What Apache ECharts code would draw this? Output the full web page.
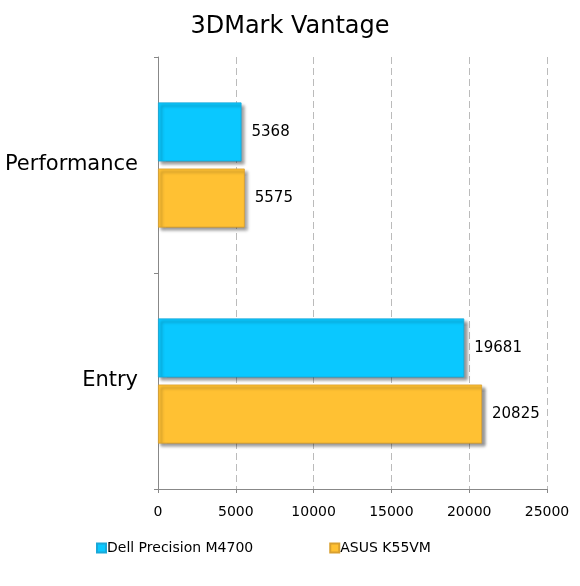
<!DOCTYPE html>
<html>
<head>
<meta charset="utf-8">
<script src="https://cdn.jsdelivr.net/npm/echarts@6/dist/echarts.min.js"></script>
<style>
  html, body { margin: 0; padding: 0; background: #fff; }
  #chart { width: 580px; height: 586px; }
</style>
</head>
<body>
<div id="chart"></div>
<script>
// chart data
const categories = ['Performance', 'Entry']
const dellScores = [5368, 19681]
const asusScores = [5575, 20825]
const seriesNames = ['Dell Precision M4700', 'ASUS K55VM']
const xTicks = [0, 5000, 10000, 15000, 20000, 25000]

const font = 'Verdana, "DejaVu Sans", sans-serif'

function barSeries(name, data, color, edge) {
  return {
    name,
    type: 'bar',
    data,
    barWidth: 59,
    barGap: '12%',
    itemStyle: {
      color,
      borderColor: edge,
      borderWidth: 0.8,
      shadowColor: 'rgba(0,0,0,0.45)',
      shadowBlur: 3,
      shadowOffsetX: 3,
      shadowOffsetY: 3
    },
    label: {
      show: true,
      position: 'right',
      distance: 10,
      color: '#000',
      fontFamily: font,
      fontSize: 15,
      padding: [3, 0, 0, 0]
    }
  }
}

const chart = echarts.init(document.getElementById('chart'), null, { renderer: 'canvas' })

chart.setOption({
  animation: false,
  backgroundColor: '#fff',
  title: {
    text: '3DMark Vantage',
    left: 'center',
    top: 10,
    textStyle: { fontFamily: font, fontSize: 24, fontWeight: 'normal', color: '#000' }
  },
  legend: {
    bottom: 26,
    left: 91,
    itemGap: 76,
    itemWidth: 9,
    itemHeight: 9,
    icon: 'rect',
    textStyle: { fontFamily: font, fontSize: 14, color: '#000', padding: [0, 0, 0, -4] },
    data: seriesNames
  },
  grid: { left: 158, right: 33, top: 57, bottom: 97 },
  xAxis: {
    type: 'value',
    min: xTicks[0],
    max: xTicks[xTicks.length - 1],
    interval: 5000,
    axisLine: { show: true, lineStyle: { color: '#888' } },
    axisTick: { show: true, length: 4, lineStyle: { color: '#888' } },
    axisLabel: {
      fontFamily: font, fontSize: 14, color: '#000', margin: 16,
      formatter: v => String(v)
    },
    splitLine: { show: true, lineStyle: { color: '#bbb', type: [7, 4] } }
  },
  yAxis: {
    type: 'category',
    inverse: true,
    data: categories,
    axisLine: { show: true, lineStyle: { color: '#888' } },
    axisTick: { show: true, length: 4, lineStyle: { color: '#888' } },
    axisLabel: { fontFamily: font, fontSize: 21, color: '#000', margin: 20, padding: [6, 0, 0, 0] }
  },
  series: [
    barSeries(seriesNames[0], dellScores, '#0AC8FF', '#1aa8d8'),
    barSeries(seriesNames[1], asusScores, '#FFC133', '#d9a030')
  ]
})
</script>
</body>
</html>
